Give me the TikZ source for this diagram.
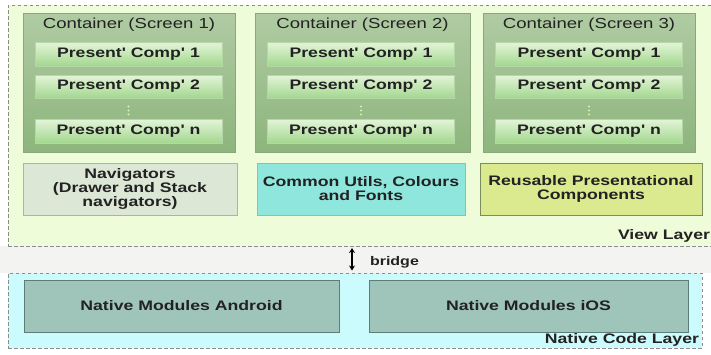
\documentclass[tikz,border=0pt]{standalone}
\usepackage{fontspec}
\setmainfont{Liberation Sans}
\newfontfamily\wf[FakeStretch=1.28]{Liberation Sans}
\usetikzlibrary{arrows.meta}
\definecolor{viewbg}{HTML}{EFFCD9}
\definecolor{gapbg}{HTML}{F3F4F2}
\definecolor{nativebg}{HTML}{CCFBFD}
\definecolor{layerline}{HTML}{8C8C8C}
\definecolor{conttop}{HTML}{B0CBA3}
\definecolor{contbot}{HTML}{8DB57D}
\definecolor{contline}{HTML}{8AA77C}
\definecolor{comptop}{HTML}{E3F5D8}
\definecolor{compbot}{HTML}{A3D78F}
\definecolor{compline}{HTML}{B5D6A6}
\definecolor{navfill}{HTML}{DCE7D6}
\definecolor{navline}{HTML}{A2BD95}
\definecolor{utilfill}{HTML}{8FE6DC}
\definecolor{utilline}{HTML}{8DC3A5}
\definecolor{reusefill}{HTML}{DBE98F}
\definecolor{reuseline}{HTML}{7D8C5C}
\definecolor{natfill}{HTML}{9FC4BA}
\definecolor{natline}{HTML}{5E7D77}
\definecolor{txt}{HTML}{222222}
\definecolor{dotcol}{HTML}{DDEFAE}
\tikzset{
  base/.style={rectangle, inner sep=0pt, outer sep=0pt, text=txt, align=center,
    font=\wf\bfseries\fontsize{13.8}{14}\selectfont},
  layerbox/.style={base, draw=layerline, dashed, line width=0.9pt,
    dash pattern=on 3.5pt off 2.5pt},
  contbox/.style={base, draw=contline, line width=0.8pt, top color=conttop,
    bottom color=contbot, minimum width=212pt, minimum height=139pt},
  compbox/.style={base, draw=compline, line width=0.8pt, top color=comptop,
    bottom color=compbot, minimum width=187pt, minimum height=24pt},
  midbox/.style={base, line width=0.9pt, minimum height=52pt},
  natbox/.style={base, draw=natline, fill=natfill, line width=1pt, minimum height=52pt},
  title/.style={base, text=txt, font=\wf\fontsize{14.5}{15}\selectfont},
  lbl/.style={base},
  dotmark/.style={fill=dotcol}
}
\begin{document}
\begin{tikzpicture}[x=1pt, y=-1pt]
\useasboundingbox (0,0) rectangle (711,354);
\fill[white] (0,0) rectangle (711,354);
\fill[gapbg] (0,246) rectangle (711,273);
% layers
\node[layerbox, fill=viewbg, minimum width=708pt, minimum height=241pt] (view) at (362,125.5) {};
\node[layerbox, fill=nativebg, minimum width=694pt, minimum height=75pt] (native) at (355,310.5) {};
% containers
\node[contbox] (c1) at (129,82.5) {};
\node[contbox, minimum width=215pt] (c2) at (362.5,82.5) {};
\node[contbox] (c3) at (589,82.5) {};
\node[title] (t1) at (129,25) {Container (Screen 1)};
\node[title] (t2) at (362.5,25) {Container (Screen 2)};
\node[title] (t3) at (589,25) {Container (Screen 3)};
% components
\foreach \i/\cx in {1/128.5, 2/361, 3/589} {
  \node[compbox] (p\i a) at (\cx,54) {Present' Comp' 1};
  \node[compbox, minimum height=23pt] (p\i b) at (\cx,86.5) {Present' Comp' 2};
  \foreach \dy in {106.5,110.5,114.5} {
    \fill[dotmark] (\cx,\dy) circle (1.1pt);
  }
  \node[compbox] (p\i n) at (\cx,131) {Present' Comp' n};
}
% middle row
\node[midbox, draw=navline, fill=navfill, minimum width=214pt] (nav) at (130,189)
  {Navigators\\(Drawer and Stack\\navigators)};
\node[midbox, draw=utilline, fill=utilfill, minimum width=208pt] (util) at (361,189)
  {Common Utils, Colours\\and Fonts};
\node[midbox, draw=reuseline, fill=reusefill, minimum width=222pt] (reuse) at (591,189)
  {Reusable Presentational\\Components};
\node[lbl, anchor=east] (viewlbl) at (710,236) {View Layer};
% bridge
\coordinate (btop) at (352,248);
\coordinate (bbot) at (352,270.5);
\draw[line width=1.3pt, {Stealth[length=5pt,width=6pt]}-{Stealth[length=5pt,width=6pt]}] (btop) -- (bbot);
\node[lbl, anchor=west, font=\wf\bfseries\fontsize{12.5}{13}\selectfont] (bridge) at (370,262.5) {bridge};
% native modules
\node[natbox, minimum width=315pt] (android) at (181.5,306) {Native Modules Android};
\node[natbox, minimum width=319pt] (ios) at (528.5,306) {Native Modules iOS};
\node[lbl, anchor=east] (natlbl) at (699,340) {Native Code Layer};
\end{tikzpicture}
\end{document}
